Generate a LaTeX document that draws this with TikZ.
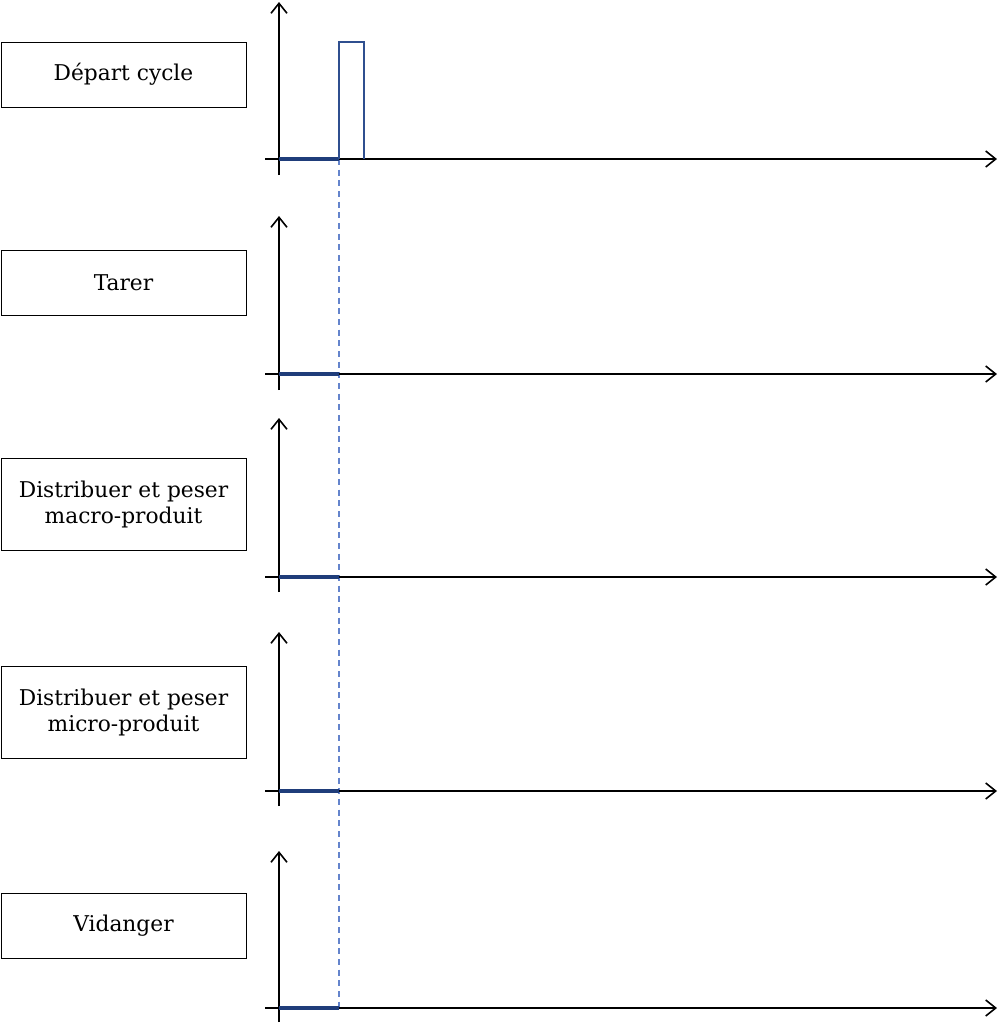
\documentclass[tikz,border=0pt]{standalone}
\usepackage{fontspec}
\setmainfont{DejaVu Serif}
\usetikzlibrary{arrows.meta}
\definecolor{signal}{HTML}{1F3D7A}
\definecolor{contour}{HTML}{2F4F8F}
\definecolor{bleuclair}{HTML}{6484CC}

\begin{document}
\begin{tikzpicture}
        [x=0.75pt, y=-0.75pt,
        every node/.style={draw, line width=0.75pt, minimum width=183.75pt, align=center, inner sep=0, font=\fontsize{16.3}{19.5}\selectfont},
        axe/.style={line width=1.2pt, black, -{Straight Barb[length=7.5pt, width=12pt]}},
        niveau/.style={line width=3.5pt, signal},
        impulsion/.style={line width=1.6pt, contour},
        guide/.style={line width=1pt, bleuclair, dash pattern=on 4.5pt off 3.5pt}]

        \useasboundingbox (0, 0) rectangle (998, 1026);

        \node[minimum height=48.75pt] (depart) at (123.5, 74.5) {Départ cycle};
        \node[minimum height=48.75pt] (tarer) at (123.5, 282.5) {Tarer};
        \node[minimum height=69pt] (macro) at (123.5, 504) {Distribuer et peser\\macro-produit};
        \node[minimum height=69pt] (micro) at (123.5, 712) {Distribuer et peser\\micro-produit};
        \node[minimum height=48.75pt] (vidanger) at (123.5, 925.5) {Vidanger};

        \coordinate (o1) at (279, 159);
        \coordinate (o2) at (279, 374);
        \coordinate (o3) at (279, 577);
        \coordinate (o4) at (279, 791);
        \coordinate (o5) at (279, 1008);

        \draw[guide] (339, 159) -- (339, 1008);

        \draw[axe] (279, 175) -- (279, 2);
        \draw[axe] (265, 159) -- (997, 159);
        \draw[axe] (279, 390) -- (279, 216);
        \draw[axe] (265, 374) -- (997, 374);
        \draw[axe] (279, 592) -- (279, 418);
        \draw[axe] (265, 577) -- (997, 577);
        \draw[axe] (279, 806) -- (279, 632);
        \draw[axe] (265, 791) -- (997, 791);
        \draw[axe] (279, 1022) -- (279, 851);
        \draw[axe] (265, 1008) -- (997, 1008);

        \draw[niveau] (o1) -- ++(60, 0);
        \draw[niveau] (o2) -- ++(60, 0);
        \draw[niveau] (o3) -- ++(60, 0);
        \draw[niveau] (o4) -- ++(60, 0);
        \draw[niveau] (o5) -- ++(60, 0);

        \draw[impulsion] (339, 159) -- (339, 42) -- (364, 42) -- (364, 159);
      \end{tikzpicture}
\end{document}
